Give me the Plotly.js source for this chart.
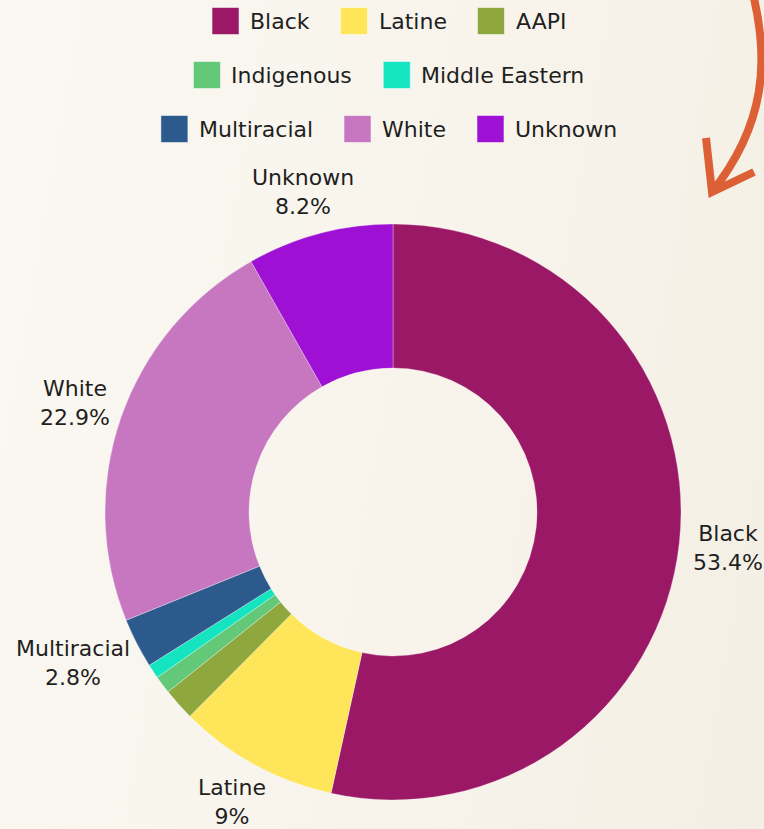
<!DOCTYPE html>
<html><head><meta charset="utf-8">
<script src="https://cdn.plot.ly/plotly-3.0.1.min.js"></script>
<style>
html,body{margin:0;padding:0;}
body{background:linear-gradient(100deg,#faf8f2 0%,#f8f4ec 55%,#f4efe4 100%);}
#chart{width:764px;height:829px;}
</style>
</head><body><div id="chart"></div>
<script>
// ---- data ----
const categories = ["Black","Latine","AAPI","Indigenous","Middle Eastern","Multiracial","White","Unknown"];
const shares = [53.4, 9, 1.8, 1.0, 0.8, 2.8, 22.9, 8.2];
const colors = ["#9b1866","#fee55a","#8fa83d","#63c878","#14e5c0","#2c5a8c","#c677bf","#9e10d3"];
const labelledSlices = ["Black","Latine","Multiracial","White","Unknown"];
const legendRows = [["Black","Latine","AAPI"],["Indigenous","Middle Eastern"],["Multiracial","White","Unknown"]];

// ---- layout constants ----
const W = 764, H = 829;
const M = {l:105, r:83, t:224, b:29};
const PW = W - M.l - M.r, PH = H - M.t - M.b;
const FONT = "DejaVu Sans";
const FS = 22;
const LINE_H = FS * 1.3;
const TXT = "#1f1f1f";
const px2x = p => (p - M.l) / PW;
const py2y = p => (H - M.b - p) / PH;

const ctx = document.createElement("canvas").getContext("2d");
ctx.font = FS + "px '" + FONT + "'";
const tw = s => ctx.measureText(s).width;

const shapes = [], annotations = [];

// ---- legend (built from categories / colors) ----
const SW = 27, GAP1 = 11, GAP2 = 31, LEG_CX = 389, ROW_Y = [21, 75, 129];
legendRows.forEach((row, ri) => {
  const widths = row.map(s => SW + GAP1 + tw(s));
  const total = widths.reduce((a,b)=>a+b,0) + GAP2*(row.length-1);
  let x = LEG_CX - total/2;
  const cy = ROW_Y[ri];
  row.forEach((name, i) => {
    const c = colors[categories.indexOf(name)];
    shapes.push({type:"rect", xref:"paper", yref:"paper",
      x0:px2x(x), x1:px2x(x+SW), y0:py2y(cy+SW/2), y1:py2y(cy-SW/2),
      fillcolor:c, line:{color:"rgba(255,255,255,0.5)", width:1}});
    annotations.push({xref:"paper", yref:"paper", x:px2x(x+SW+GAP1-2), y:py2y(cy),
      xanchor:"left", yanchor:"middle", showarrow:false, text:name,
      font:{family:FONT, size:FS, color:TXT}});
    x += widths[i] + GAP2;
  });
});

// ---- slice labels, placed outside each slice's mid-angle ----
const CX = M.l + PW/2, CY = M.t + PH/2, R = Math.min(PW, PH)/2;
const total = shares.reduce((a,b)=>a+b,0);
const LABEL_OFF = 14;
let cum = 0;
categories.forEach((name, i) => {
  const v = shares[i];
  const th = 2*Math.PI*(cum + v/2)/total;
  cum += v;
  if (!labelledSlices.includes(name)) return;
  const dx = Math.sin(th), dy = -Math.cos(th);
  const line2 = v + "%";
  const w = Math.max(tw(name), tw(line2)), h = 2*LINE_H;
  const x = CX + dx*(R + LABEL_OFF) + dx*w/2;
  const y = CY + dy*(R + LABEL_OFF) + dy*h/2;
  annotations.push({xref:"paper", yref:"paper", x:px2x(x), y:py2y(y),
    xanchor:"center", yanchor:"middle", align:"center", showarrow:false,
    text:name + "<br>" + line2, font:{family:FONT, size:FS, color:TXT}});
});

// ---- decorative arrow (top right) ----
function seg(cmd, ...pts){
  const pairs=[];
  for(let k=0;k<pts.length;k+=2) pairs.push(px2x(pts[k]).toFixed(5)+","+py2y(pts[k+1]).toFixed(5));
  return cmd+" "+pairs.join(" ");
}
const arrowColor = "#dc5f36";
shapes.push({type:"path", xref:"paper", yref:"paper",
  path: seg("M",753,-6) + " " + seg("C",769,60,766,124,712,192),
  line:{color:arrowColor, width:8}});
shapes.push({type:"path", xref:"paper", yref:"paper",
  path: seg("M",706,138) + " " + seg("L",712,192) + " " + seg("L",754,172),
  line:{color:arrowColor, width:8}});

const trace = {
  type:"pie",
  labels: categories,
  values: shares,
  sort:false,
  direction:"clockwise",
  rotation:0,
  hole:0.5,
  marker:{colors:colors, line:{color:"rgba(255,255,255,0.45)", width:0.7}},
  textinfo:"none",
  hoverinfo:"label+value",
  showlegend:false
};

const layout = {
  width:W, height:H,
  margin:M,
  paper_bgcolor:"rgba(0,0,0,0)",
  plot_bgcolor:"rgba(0,0,0,0)",
  font:{family:FONT, size:FS, color:TXT},
  showlegend:false,
  shapes:shapes,
  annotations:annotations
};
Plotly.newPlot("chart", [trace], layout, {displayModeBar:false, staticPlot:true});
</script>
</body></html>
